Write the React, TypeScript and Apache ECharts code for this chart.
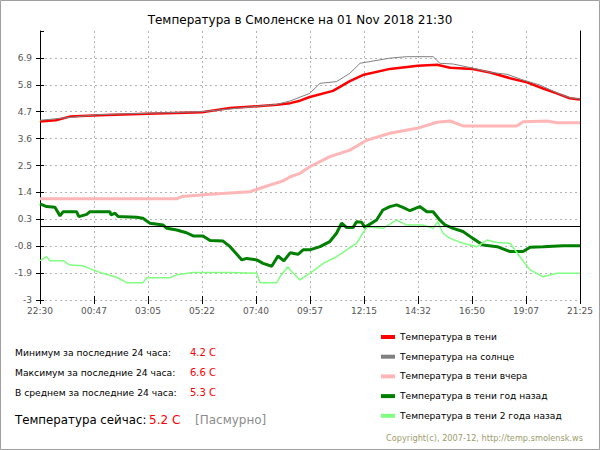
import React, { useEffect, useRef } from "react";
import * as echarts from "echarts";

const FONT = "'DejaVu Sans', Verdana, sans-serif";

const titleText = "Температура в Смоленске на 01 Nov 2018 21:30";
const xTickLabels = ["22:30", "00:47", "03:05", "05:22", "07:40", "09:57", "12:15", "14:32", "16:50", "19:07", "21:25"];
const yTickLabels = ["-3", "-1.9", "-0.8", "0.3", "1.4", "2.5", "3.6", "4.7", "5.8", "6.9"];
const X_STEP = 137.5; // minutes between x ticks
const X_MAX = 1375; // minutes from 22:30 to 21:25
const Y_MIN = -3;
const Y_STEP = 1.1;
const Y_MAX = 8;

const seriesNames = [
  "Температура в тени",
  "Температура на солнце",
  "Температура в тени вчера",
  "Температура в тени год назад",
  "Температура в тени 2 года назад",
];
const seriesColors = ["#ff0000", "#808080", "#ffb6b6", "#008000", "#80ff80"];
const seriesWidths = [2.5, 1, 3, 3, 1.5];

// [minutes since 22:30, temperature]
const shadeToday = [
  [0, 4.3], [40, 4.35], [76, 4.5], [150, 4.55], [275, 4.62], [412, 4.68], [484, 4.85],
  [603, 4.98], [637, 5.05], [662, 5.15], [687, 5.3], [746, 5.55], [789, 5.95], [822, 6.2],
  [891, 6.45], [962, 6.58], [1011, 6.62], [1044, 6.5], [1102, 6.45], [1146, 6.3],
  [1197, 6.07], [1240, 5.9], [1281, 5.65], [1316, 5.45], [1349, 5.25], [1375, 5.2],
];
const sunToday = [
  [0, 4.35], [150, 4.58], [412, 4.7], [603, 5.0], [637, 5.14], [687, 5.45], [713, 5.86],
  [755, 5.93], [789, 6.27], [815, 6.68], [840, 6.75], [891, 6.89], [933, 6.95], [1001, 6.95],
  [1018, 6.68], [1052, 6.65], [1102, 6.48], [1146, 6.31], [1189, 6.23], [1230, 6.0],
  [1273, 5.79], [1316, 5.47], [1349, 5.27], [1375, 5.22],
];
const shadeYesterday = [
  [0, 1.14], [348, 1.14], [361, 1.23], [433, 1.32], [535, 1.43], [568, 1.61], [619, 1.87],
  [637, 2.04], [662, 2.18], [687, 2.45], [738, 2.86], [789, 3.13], [833, 3.54], [891, 3.82],
  [960, 4.02], [1011, 4.27], [1044, 4.32], [1077, 4.12], [1214, 4.12], [1230, 4.29],
  [1291, 4.32], [1316, 4.25], [1375, 4.25],
];
const shadeYearAgo = [
  [0, 0.93], [17, 0.82], [38, 0.79], [51, 0.44], [59, 0.61], [93, 0.61], [99, 0.41],
  [119, 0.5], [127, 0.61], [178, 0.61], [181, 0.48], [191, 0.55], [199, 0.41], [246, 0.38],
  [262, 0.34], [280, 0.14], [313, 0.07], [323, -0.07], [348, -0.14], [373, -0.25],
  [390, -0.38], [415, -0.38], [433, -0.57], [466, -0.59], [484, -0.82], [514, -1.36],
  [526, -1.3], [552, -1.36], [568, -1.5], [590, -1.62], [606, -1.2], [621, -1.4],
  [637, -1.07], [657, -1.13], [670, -0.95], [687, -0.95], [713, -0.82], [738, -0.61],
  [755, -0.27], [768, 0.14], [781, -0.04], [797, -0.04], [806, 0.2], [819, 0.18],
  [827, -0.03], [857, 0.27], [873, 0.68], [891, 0.82], [908, 0.89], [924, 0.79],
  [942, 0.65], [967, 0.82], [985, 0.61], [1001, 0.61], [1018, 0.27], [1031, 0.07],
  [1052, -0.07], [1077, -0.2], [1102, -0.48], [1128, -0.75], [1164, -0.82], [1197, -1.02],
  [1230, -1.02], [1248, -0.84], [1281, -0.82], [1332, -0.78], [1375, -0.78],
];
const shadeTwoYearsAgo = [
  [0, -1.39], [17, -1.23], [25, -1.39], [59, -1.39], [76, -1.57], [109, -1.6], [135, -1.77],
  [160, -1.91], [195, -2.07], [221, -2.29], [262, -2.29], [272, -2.09], [331, -2.09],
  [348, -1.97], [390, -1.88], [484, -1.88], [552, -1.91], [560, -2.29], [603, -2.29],
  [611, -2.05], [631, -1.64], [637, -1.77], [662, -2.18], [687, -1.91], [721, -1.5],
  [755, -1.23], [781, -0.95], [806, -0.68], [822, -0.27], [833, 0.0], [873, -0.07],
  [908, 0.27], [933, 0.07], [975, 0.07], [1001, -0.07], [1013, 0.2], [1026, -0.27],
  [1044, -0.48], [1077, -0.68], [1113, -0.82], [1138, -0.55], [1164, -0.65], [1197, -0.68],
  [1222, -1.23], [1248, -1.77], [1281, -2.05], [1316, -1.91], [1342, -1.91], [1375, -1.91],
];
const seriesData = [shadeToday, sunToday, shadeYesterday, shadeYearAgo, shadeTwoYearsAgo];

const statLabels = ["Минимум за последние 24 часа:", "Максимум за последние 24 часа:", "В среднем за последние 24 часа:"];
const statValues = ["4.2 C", "6.6 C", "5.3 C"];
const nowLabel = "Температура сейчас:";
const nowValue = "5.2 C";
const nowWeather = "[Пасмурно]";
const copyright = "Copyright(c), 2007-12, http://temp.smolensk.ws";

export default function App() {
  const ref = useRef<HTMLDivElement>(null);

  useEffect(() => {
    if (!ref.current) return;
    const chart = echarts.init(ref.current, null, { renderer: "svg" });

    const yFmt = (v: number) => {
      const i = Math.round(v / Y_STEP);
      return yTickLabels[i] ?? "";
    };
    const xFmt = (v: number) => {
      const i = Math.round(v / X_STEP);
      return xTickLabels[i] ?? "";
    };
    const dashed = { color: "#b4b4b4", type: [2, 3] as any, width: 1 };

    const series: any[] = seriesNames.map((name, k) => ({
      name,
      type: "line",
      color: seriesColors[k],
      showSymbol: false,
      symbol: "none",
      lineStyle: { color: seriesColors[k], width: seriesWidths[k] },
      data: seriesData[k].map(([m, t]) => [m, t - Y_MIN]),
      z: 3,
    }));
    series[0].markLine = {
      silent: true,
      symbol: "none",
      label: { show: false },
      lineStyle: { color: "#000", width: 1, type: "solid" },
      data: [{ yAxis: 0 - Y_MIN }],
    };

    const graphic: any[] = [
      {
        type: "rect",
        shape: { x: 0.5, y: 0.5, width: 599, height: 449 },
        style: { fill: "none", stroke: "#a0a0a0", lineWidth: 1 },
        silent: true,
      },
    ];
    statLabels.forEach((s, i) => {
      graphic.push({
        type: "text",
        x: 15,
        y: 352 + i * 20,
        style: { text: s, fontSize: 9.2, fontFamily: FONT, fill: "#000", verticalAlign: "middle" },
      });
      graphic.push({
        type: "text",
        x: 190,
        y: 352 + i * 20,
        style: { text: statValues[i], fontSize: 10, fontFamily: FONT, fill: "#ff0000", verticalAlign: "middle" },
      });
    });
    graphic.push(
      {
        type: "text",
        x: 15,
        y: 420,
        style: { text: nowLabel, fontSize: 11.8, fontFamily: FONT, fill: "#000", verticalAlign: "middle" },
      },
      {
        type: "text",
        x: 149,
        y: 420,
        style: { text: nowValue, fontSize: 12, fontFamily: FONT, fill: "#ff0000", verticalAlign: "middle" },
      },
      {
        type: "text",
        x: 195,
        y: 420,
        style: { text: nowWeather, fontSize: 12, fontFamily: FONT, fill: "#8c8c8c", verticalAlign: "middle" },
      },
      {
        type: "text",
        x: 583,
        y: 438,
        style: { text: copyright, fontSize: 8.2, fontFamily: FONT, fill: "#9c9c6c", align: "right", verticalAlign: "middle" },
      }
    );

    chart.setOption({
      animation: false,
      backgroundColor: "#fff",
      title: {
        text: titleText,
        left: "center",
        top: 9,
        textStyle: { fontSize: 12, fontWeight: "normal", color: "#000", fontFamily: FONT },
      },
      grid: { left: 40, right: 20, top: 31, bottom: 150, containLabel: false },
      legend: {
        orient: "vertical",
        left: 381,
        top: 331,
        padding: 0,
        itemGap: 7.7,
        itemWidth: 14,
        itemHeight: 4,
        icon: "rect",
        data: seriesNames,
        textStyle: { fontSize: 9.1, lineHeight: 12, color: "#000", fontFamily: FONT },
        selectedMode: false,
      },
      xAxis: [
        {
          type: "value",
          min: 0,
          max: X_MAX,
          interval: X_STEP,
          position: "bottom",
          axisLine: { show: false, onZero: false },
          axisTick: { show: true, inside: true, length: 4, lineStyle: { color: "#000" } },
          axisLabel: { formatter: xFmt, color: "#555", fontSize: 9, margin: 6, fontFamily: FONT },
          splitLine: { show: true, lineStyle: dashed },
        },
        {
          type: "value",
          min: 0,
          max: X_MAX,
          interval: X_STEP,
          position: "bottom",
          axisLine: { show: false, onZero: false },
          axisTick: { show: true, inside: false, length: 4, lineStyle: { color: "#000" } },
          axisLabel: { show: false },
          splitLine: { show: false },
        },
      ],
      yAxis: [
        {
          type: "value",
          min: 0,
          max: Y_MAX - Y_MIN,
          interval: Y_STEP,
          position: "left",
          axisLine: { show: true, onZero: false, lineStyle: { color: "#000", width: 1 } },
          axisTick: { show: true, length: 4, lineStyle: { color: "#000" } },
          axisLabel: { formatter: yFmt, color: "#555", fontSize: 9, margin: 8, showMaxLabel: false, fontFamily: FONT },
          splitLine: { show: true, showMaxLine: false, lineStyle: dashed },
        },
        {
          type: "value",
          min: 0,
          max: Y_MAX - Y_MIN,
          interval: Y_STEP,
          position: "left",
          axisLine: { show: false, onZero: false },
          axisTick: { show: true, inside: true, length: 4, lineStyle: { color: "#000" } },
          axisLabel: { show: false },
          splitLine: { show: false },
        },
        {
          type: "value",
          min: 0,
          max: Y_MAX - Y_MIN,
          position: "right",
          axisLine: { show: true, onZero: false, lineStyle: { color: "#000", width: 1 } },
          axisTick: { show: false },
          axisLabel: { show: false },
          splitLine: { show: false },
        },
      ],
      series,
      graphic,
    });

    return () => chart.dispose();
  }, []);

  return (
    <div
      ref={ref}
      style={{ position: "absolute", left: 0, top: 0, width: 600, height: 450 }}
    />
  );
}
